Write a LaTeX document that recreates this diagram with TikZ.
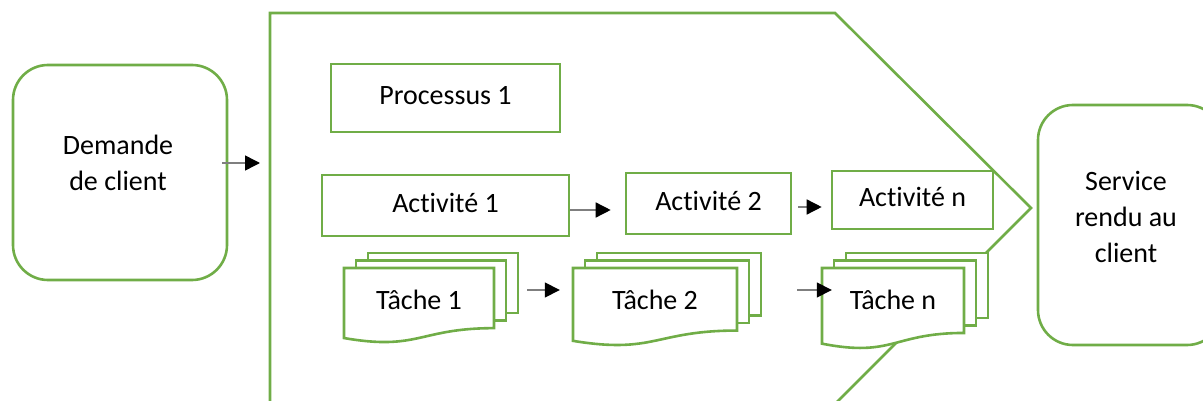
\documentclass[tikz,border=0pt]{standalone}
\usepackage{fontspec}
\setmainfont{Carlito}[RawFeature=-liga]
\usetikzlibrary{arrows.meta}

\definecolor{leaf}{HTML}{70AD47}
\definecolor{shaft}{HTML}{7F7F7F}

% three stacked sheets: front sheet at (#1,268), width #2, height #3
\newcommand{\taskstack}[3]{%
  \draw[sheet] ({#1+24},253) rectangle ({#1+24+#2},{253+0.8*#3});
  \draw[sheet] ({#1+12},260.5) rectangle ({#1+12+#2},{260.5+0.8*#3});
  \draw[sheet] (#1,268) -- ({#1+#2},268) -- ({#1+#2},{268+0.802*#3})
    .. controls ({#1+0.5*#2},{268+0.802*#3}) and ({#1+0.5*#2},{268+1.107*#3})
    .. (#1,{268+0.934*#3}) -- cycle;
}

\begin{document}
\begin{tikzpicture}[x=1pt,y=-1pt,
  every node/.style={font=\fontsize{28}{36}\selectfont},
  sheet/.style={draw=leaf,line width=2.6pt,fill=white,line join=miter},
  box/.style={draw=leaf,line width=2.6pt,fill=white,inner sep=0pt,
    text height=18pt,text depth=4pt},
  rbox/.style={draw=leaf,line width=2.6pt,fill=white,rounded corners=35pt,inner sep=0pt},
  label/.style={inner sep=0pt,align=center},
  tasklabel/.style={inner sep=0pt,text height=18pt,text depth=4pt},
  arr/.style={draw=shaft,line width=1.5pt,
    -{Triangle[length=15pt,width=15pt,color=black]}}]

\useasboundingbox (0,0) rectangle (1203,401);
\clip (0,0) rectangle (1203,401);

% process envelope (pentagon arrow)
\draw[leaf,line width=2.6pt,line join=miter]
  (270,430) -- (270,13) -- (835,13) -- (1031,208) -- (809,430);

% client request and delivered service
\node[rbox,minimum width=214pt,minimum height=215pt] (dem) at (120,172.5) {};
\node[label] (demt) at (118,163) {Demande\\de client};
\node[rbox,minimum width=184pt,minimum height=240pt] (serv) at (1130,225) {};
\node[label] (servt) at (1126,217) {Service\\rendu au\\client};
\coordinate (entry) at (260,163);

% process and activities
\node[box,minimum width=229pt,minimum height=68pt] (proc) at (445.5,98) {Processus 1};
\node[box,minimum width=247pt,minimum height=61pt] (a1) at (445.5,205.5) {Activité 1};
\node[box,minimum width=165pt,minimum height=61pt] (a2) at (708.5,203.5) {Activité 2};
\node[box,minimum width=161pt,minimum height=58pt] (an) at (912.5,200) {Activité n};

% tasks
\taskstack{344}{150}{75}
\taskstack{573}{164}{78}
\taskstack{822}{142}{81}
\node[tasklabel,minimum width=150pt] (t1) at (419,302) {Tâche 1};
\node[tasklabel,minimum width=164pt] (t2) at (655,302) {Tâche 2};
\node[tasklabel,minimum width=142pt] (tn) at (893,302) {Tâche n};

% connectors
\draw[arr] ([xshift=-6pt]dem.east |- demt) -- (entry);
\draw[arr] ([yshift=-4.5pt]a1.east) -- ([xshift=-14pt,yshift=-6.5pt]a2.west);
\draw[arr] ([xshift=6pt,yshift=-3.5pt]a2.east) -- ([xshift=-9pt,yshift=-7pt]an.west);
\draw[arr] ([xshift=33pt,yshift=12pt]t1.east) -- ([xshift=-13pt,yshift=12pt]t2.west);
\draw[arr] ([xshift=60pt,yshift=12pt]t2.east) -- ([xshift=10pt,yshift=12pt]tn.west);

\end{tikzpicture}
\end{document}
